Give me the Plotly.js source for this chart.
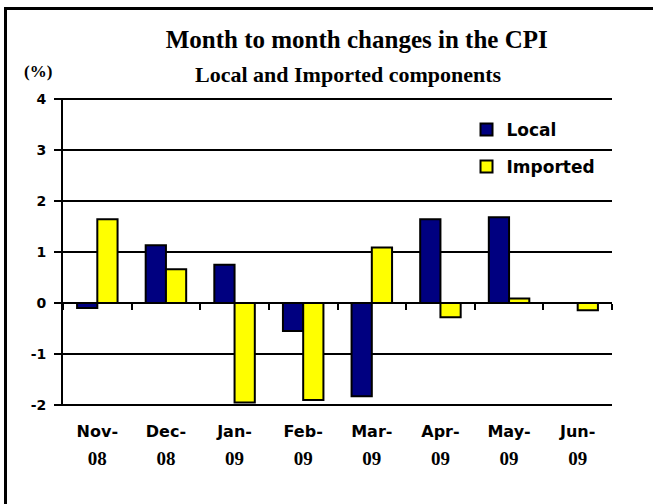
<!DOCTYPE html>
<html>
<head>
<meta charset="utf-8">
<script src="https://cdn.plot.ly/plotly-3.0.1.min.js"></script>
<style>
html,body{margin:0;padding:0;background:#fff;overflow:hidden;}
#chart{width:653px;height:504px;position:relative;}
#frame{position:absolute;left:4px;top:7px;width:700px;height:600px;border-left:3px solid #000;border-top:3px solid #000;pointer-events:none;}
</style>
</head>
<body>
<div id="chart"></div>
<div id="frame"></div>
<script>
// ---- data ----
var categories = ["Nov-08","Dec-08","Jan-09","Feb-09","Mar-09","Apr-09","May-09","Jun-09"];
var monthLabels = ["Nov-","Dec-","Jan-","Feb-","Mar-","Apr-","May-","Jun-"];
var yearLabels = ["08","08","09","09","09","09","09","09"];
var localValues = [-0.10, 1.13, 0.75, -0.55, -1.83, 1.64, 1.68, 0.00];
var importedValues = [1.64, 0.66, -1.95, -1.90, 1.09, -0.28, 0.09, -0.14];
var yTicks = [-2, -1, 0, 1, 2, 3, 4];
var yTickLabels = ["-2", "-1", "0", "1", "2", "3", "4"];

var traces = [
  {type: "bar", name: "Local", x: categories, y: localValues,
   marker: {color: "#000080", line: {color: "#000", width: 2}},
   legendgroup: "a", xaxis: "x", yaxis: "y"},
  {type: "bar", name: "Imported", x: categories, y: importedValues,
   marker: {color: "#FFFF00", line: {color: "#000", width: 2}},
   legendgroup: "b", xaxis: "x", yaxis: "y"},
  // helper traces to drive the overlaid axes (years row, zero axis)
  {type: "scatter", mode: "none", x: categories, y: localValues, xaxis: "x2", yaxis: "y",
   showlegend: false, hoverinfo: "skip"},
  {type: "scatter", mode: "none", x: categories, y: localValues, xaxis: "x3", yaxis: "y",
   showlegend: false, hoverinfo: "skip"}
];

var layout = {
  width: 653, height: 504,
  margin: {l: 63, r: 41, t: 98, b: 98},
  paper_bgcolor: "#fff", plot_bgcolor: "#fff",
  barmode: "group", bargap: 0.41, bargroupgap: 0,
  showlegend: true,
  legend: {x: 0.735, y: 0.955, xanchor: "left", yanchor: "top",
           font: {family: "DejaVu Sans", size: 17, color: "#000", weight: "bold"},
           bgcolor: "rgba(0,0,0,0)", traceorder: "grouped", tracegroupgap: 12, itemwidth: 30},
  title: {text: "Month to month changes in the CPI",
          font: {family: "Liberation Serif", size: 25, color: "#000", weight: "bold"},
          x: 0.535, xref: "paper", xanchor: "center", y: 0.923, yanchor: "middle", yref: "container"},
  annotations: [
    {text: "Local and Imported components", xref: "paper", yref: "paper",
     x: 0.52, y: 1.0 + (98 - 74) / 308, xanchor: "center", yanchor: "middle", showarrow: false,
     font: {family: "Liberation Serif", size: 22, color: "#000", weight: "bold"}},
    {text: "(%)", xref: "paper", yref: "paper",
     x: (38 - 63) / 549, y: 1.0 + (98 - 72) / 308, xanchor: "center", yanchor: "middle", showarrow: false,
     font: {family: "Liberation Serif", size: 17, color: "#000", weight: "bold"}}
  ],
  xaxis: {type: "category", tickmode: "array", tickvals: categories, ticktext: monthLabels,
          showgrid: false, zeroline: false, showline: false, ticks: "",
          tickfont: {family: "DejaVu Sans", size: 16, color: "#000", weight: "bold"},
          ticklabelstandoff: 14, fixedrange: true},
  xaxis2: {type: "category", overlaying: "x", matches: "x", side: "bottom", anchor: "y",
           tickmode: "array", tickvals: categories, ticktext: yearLabels,
           showgrid: false, zeroline: false, showline: false, ticks: "",
           tickfont: {family: "Liberation Sans Narrow", size: 19, color: "#000", weight: "bold"},
           ticklabelstandoff: 39, fixedrange: true},
  xaxis3: {type: "category", overlaying: "x", matches: "x", anchor: "free", position: 1/3,
           side: "bottom", showline: true, linecolor: "#000", linewidth: 2,
           ticks: "outside", tickson: "boundaries", ticklen: 6, tickwidth: 2, tickcolor: "#000",
           showticklabels: false, showgrid: false, zeroline: false, fixedrange: true},
  yaxis: {range: [-2.02, 4.02], tickmode: "array", tickvals: yTicks, ticktext: yTickLabels,
          showgrid: true, gridcolor: "#000", gridwidth: 2,
          zeroline: false, showline: true, linecolor: "#000", linewidth: 2,
          ticks: "outside", ticklen: 7, tickwidth: 2, tickcolor: "#000",
          tickfont: {family: "DejaVu Sans", size: 14, color: "#000", weight: "bold"},
          ticklabelstandoff: 5, fixedrange: true}
};

Plotly.newPlot("chart", traces, layout, {displayModeBar: false, staticPlot: true});
</script>
</body>
</html>
